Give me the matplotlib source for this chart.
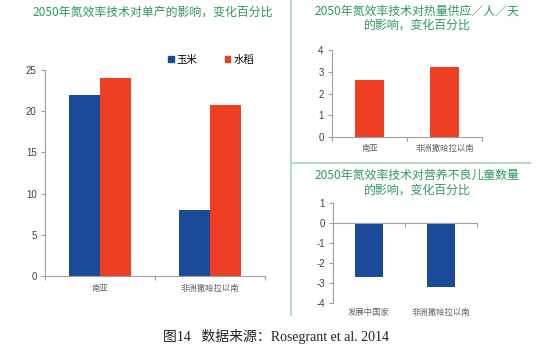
import matplotlib
matplotlib.use("Agg")
import matplotlib.pyplot as plt
from matplotlib.patches import Patch
from matplotlib.lines import Line2D

plt.rcParams['font.family'] = ['Liberation Sans', 'Noto Sans CJK SC', 'DejaVu Sans']
plt.rcParams['axes.unicode_minus'] = False

# ---- data ----
yield_regions = ['南亚', '非洲撒哈拉以南']
maize_vals = [22, 8]
rice_vals = [24, 20.8]
series_names = ['玉米', '水稻']

cal_regions = ['南亚', '非洲撒哈拉以南']
cal_vals = [2.6, 3.2]

child_regions = ['发展中国家', '非洲撒哈拉以南']
child_vals = [-2.7, -3.2]

title_left = '2050年氮效率技术对单产的影响，变化百分比'
title_tr = '2050年氮效率技术对热量供应／人／天\n的影响，变化百分比'
title_br = '2050年氮效率技术对营养不良儿童数量\n的影响，变化百分比'
caption = '图14   数据来源：Rosegrant et al. 2014'

BLUE = '#1a4a98'
RED = '#ee3f25'
GREEN = '#2f9a5c'
SEP = '#b9d9c9'
AX = '#a0a0a0'
TXT = '#404040'
CJK = ['Noto Sans CJK SC', 'DejaVu Sans']

fig = plt.figure(figsize=(5.5, 3.55), dpi=100)


def style(ax, n, ylim, yticks):
    ax.set_xlim(0, n)
    ax.set_ylim(*ylim)
    ax.set_yticks(yticks)
    for s in ['top', 'right']:
        ax.spines[s].set_visible(False)
    for s in ['left', 'bottom']:
        ax.spines[s].set_color(AX)
        ax.spines[s].set_linewidth(0.8)
    ax.tick_params(axis='y', colors=AX, labelcolor=TXT, labelsize=7, length=3, width=0.8, pad=3)
    ax.set_xticks(range(n + 1))
    ax.tick_params(axis='x', which='major', colors=AX, length=3, width=0.8, labelbottom=False)
    for lbl in ax.get_yticklabels():
        lbl.set_fontfamily(['Liberation Sans'])


# ---- left chart ----
axL = fig.add_axes([0.0818, 0.2225, 0.4, 0.5803])
style(axL, 2, (0, 25), [0, 5, 10, 15, 20, 25])
w = 0.28
pos = [i + 0.5 for i in range(len(yield_regions))]
axL.bar([p - w / 2 for p in pos], maize_vals, width=w, color=BLUE)
axL.bar([p + w / 2 for p in pos], rice_vals, width=w, color=RED)
axL.set_xticks(pos, minor=True)
axL.set_xticklabels(yield_regions, minor=True, fontfamily=CJK, fontsize=6, color='#606060')
axL.tick_params(axis='x', which='minor', length=0, pad=6)
axL.legend(handles=[Patch(color=BLUE), Patch(color=RED)], labels=series_names,
           loc='center', bbox_to_anchor=(0.755, 1.05), ncol=2, frameon=False,
           handlelength=0.55, handleheight=0.55, handletextpad=0.3, columnspacing=2.6,
           prop={'family': CJK, 'size': 7.5})
fig.text(0.277, 0.966, title_left, ha='center', va='center', color=GREEN,
         fontsize=8.6, fontfamily=CJK, fontweight='medium')

# ---- top right chart ----
axT = fig.add_axes([0.6036, 0.614, 0.2727, 0.245])
style(axT, 2, (0, 4), [0, 1, 2, 3, 4])
pos2 = [i + 0.5 for i in range(len(cal_regions))]
axT.bar(pos2, cal_vals, width=0.39, color=RED)
axT.set_xticks(pos2, minor=True)
axT.set_xticklabels(cal_regions, minor=True, fontfamily=CJK, fontsize=6, color='#606060')
axT.tick_params(axis='x', which='minor', length=0, pad=5)
fig.text(0.758, 0.948, title_tr, ha='center', va='center', color=GREEN,
         fontsize=8.6, fontfamily=CJK, fontweight='medium', linespacing=1.1)

# ---- bottom right chart ----
axB = fig.add_axes([0.6055, 0.1465, 0.2618, 0.2817])
style(axB, 2, (-4, 1), [-4, -3, -2, -1, 0, 1])
axB.spines['bottom'].set_position(('data', 0))
pos3 = [i + 0.5 for i in range(len(child_regions))]
axB.bar(pos3, child_vals, width=0.39, color=BLUE)
for p, lab in zip(pos3, child_regions):
    axB.text(p, -4.25, lab, ha='center', va='top', fontfamily=CJK, fontsize=6, color='#606060')
fig.text(0.758, 0.485, title_br, ha='center', va='center', color=GREEN,
         fontsize=8.6, fontfamily=CJK, fontweight='medium', linespacing=1.1)

# ---- separators ----
fig.add_artist(Line2D([0.529, 0.529], [1.0, 0.113], color=SEP, linewidth=1.5, transform=fig.transFigure))
fig.add_artist(Line2D([0.529, 0.964], [0.541, 0.541], color=SEP, linewidth=1.5, transform=fig.transFigure))

# ---- caption ----
fig.text(0.502, 0.053, caption, ha='center', va='center', color='#222222',
         fontsize=10, fontfamily=['Liberation Serif', 'Noto Sans CJK SC'])

fig.savefig('out.png', dpi=100, facecolor='white')
